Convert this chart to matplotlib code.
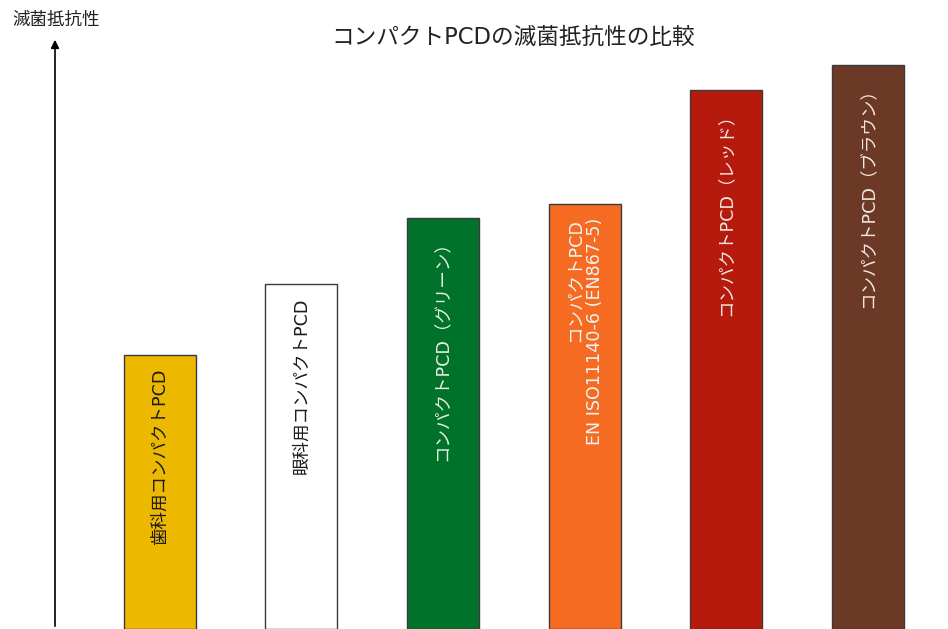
import numpy as np
import matplotlib
matplotlib.use('Agg')
import matplotlib.pyplot as plt

plt.rcParams['font.family'] = ['DejaVu Sans', 'Noto Sans CJK JP']

# Data (relative sterilisation resistance)
labels = ['歯科用コンパクトPCD',
          '眼科用コンパクトPCD',
          'コンパクトPCD（グリーン）',
          'コンパクトPCD\nEN ISO11140-6 (EN867-5)',
          'コンパクトPCD（レッド）',
          'コンパクトPCD（ブラウン）']
values = [46.3, 58.3, 69.4, 71.8, 91.0, 95.3]
colors = ['#EDB900', '#FFFFFF', '#00722A', '#F66B22', '#B51A0D', '#6C3926']
text_colors = ['#1a1a1a', '#1a1a1a', '#e8efe8', '#f3f3f3', '#f0e6e4', '#f0e8e4']

fig = plt.figure(figsize=(9.48, 6.29), dpi=100)
ax = fig.add_axes([55 / 948, 0, 1 - 55 / 948, 1 - 37 / 629])

x = np.arange(len(values))
bars = ax.bar(x, values, width=0.508, color=colors, edgecolor='#3a3a3a', linewidth=1.0)

for xi, v, lab, tc in zip(x, values, labels, text_colors):
    ax.annotate(lab, xy=(xi, v), xytext=(0, -10), textcoords='offset points',
                rotation=90, ha='center', va='top', multialignment='right',
                fontsize=12.6, color=tc)

ax.set_xlim(-0.738, 5.565)
ax.set_ylim(0, 100)
ax.set_xticks([])
ax.set_yticks([])
for s in ax.spines.values():
    s.set_visible(False)

# y axis with arrow head
ax.annotate('', xy=(0, 1), xytext=(0, 0), xycoords='axes fraction',
            arrowprops=dict(arrowstyle='-|>', color='black', lw=1.2, mutation_scale=12))

fig.text(56 / 948, 1 - 20 / 629, '滅菌抵抗性', ha='center', va='center', fontsize=12.6, color='#222222')
fig.text(513 / 948, 1 - 37 / 629, 'コンパクトPCDの滅菌抵抗性の比較', ha='center', va='center',
         fontsize=16.3, color='#222222')

fig.savefig('out.png', dpi=100)
